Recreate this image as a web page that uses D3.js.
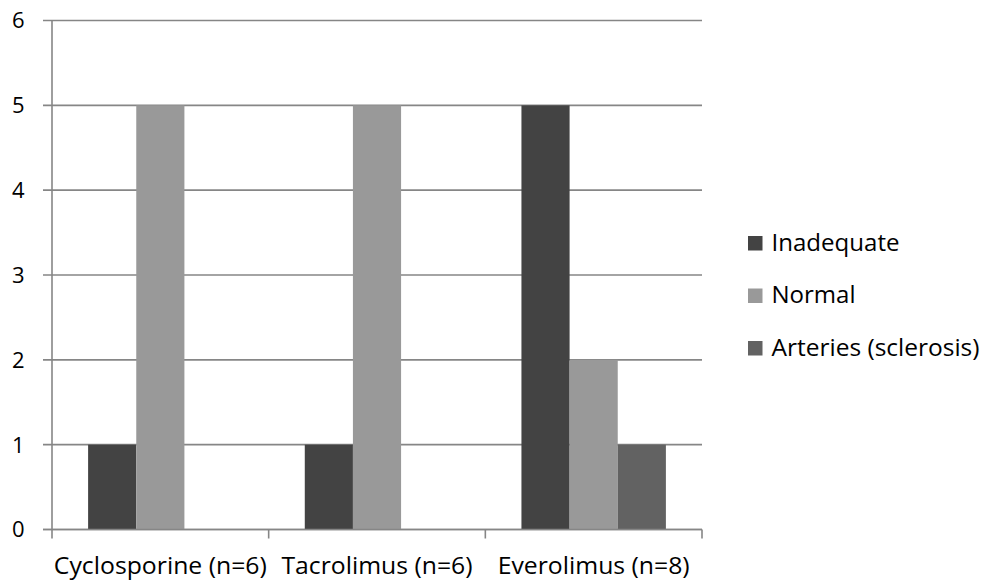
<!DOCTYPE html>
<html>
<head>
<meta charset="utf-8">
<script src="https://cdn.jsdelivr.net/npm/d3@7"></script>
<style>
  html, body { margin: 0; padding: 0; background: #fff; }
  svg { display: block; }
  text { font-family: "Open Sans", Lato, sans-serif; fill: #000; }
</style>
</head>
<body>
<svg id="chart" width="984" height="580"></svg>
<script>
const categories = ["Cyclosporine (n=6)", "Tacrolimus (n=6)", "Everolimus (n=8)"];
const seriesNames = ["Inadequate", "Normal", "Arteries (sclerosis)"];
const inadequate = [1, 1, 5];
const normal = [5, 5, 2];
const arteries = [0, 0, 1];
const seriesColors = ["#434343", "#999999", "#626262"];
const yTicks = [0, 1, 2, 3, 4, 5, 6];
// measured label widths (px) to mimic original font metrics
const catLabelWidths = [213, 191, 192];
const legendLabelWidths = [128, 84, 208];

const seriesValues = [inadequate, normal, arteries];

(function () {
const svg = d3.select("#chart");
const mLeft = 52, mRight = 702, mTop = 20.5, mBottom = 529.5;
const gridColor = "#868686";

const x0 = d3.scaleBand().domain(categories).range([mLeft, mRight]).padding(0);
const bw = x0.bandwidth();
const x1 = d3.scaleBand().domain(seriesNames).range([bw / 6, bw * 5 / 6]).padding(0);
const y = d3.scaleLinear().domain([0, 6]).range([mBottom, mTop]);

// gridlines
svg.append("g").selectAll("line").data(yTicks).join("line")
  .attr("x1", mLeft - 9).attr("x2", mRight)
  .attr("y1", d => y(d)).attr("y2", d => y(d))
  .attr("stroke", gridColor).attr("stroke-width", 1.6);

// y tick labels
svg.append("g").selectAll("text").data(yTicks).join("text")
  .attr("x", 24.5).attr("y", d => y(d))
  .attr("dy", "0.36em")
  .attr("text-anchor", "end")
  .attr("font-size", 22)
  .text(d => d);

// bars
const data = [];
categories.forEach((c, i) => {
  seriesNames.forEach((s, j) => {
    data.push({ cat: c, series: s, value: seriesValues[j][i], color: seriesColors[j] });
  });
});
svg.append("g").selectAll("rect").data(data.filter(d => d.value > 0)).join("rect")
  .attr("x", d => x0(d.cat) + x1(d.series))
  .attr("width", x1.bandwidth())
  .attr("y", d => y(d.value))
  .attr("height", d => y(0) - y(d.value))
  .attr("fill", d => d.color);

// y axis line
svg.append("line")
  .attr("x1", mLeft).attr("x2", mLeft)
  .attr("y1", mTop).attr("y2", mBottom)
  .attr("stroke", gridColor).attr("stroke-width", 1.6);

// x axis line + category boundary ticks
svg.append("line")
  .attr("x1", mLeft - 9).attr("x2", mRight)
  .attr("y1", mBottom).attr("y2", mBottom)
  .attr("stroke", gridColor).attr("stroke-width", 1.6);
const boundaries = categories.map(c => x0(c)).concat([x0(categories[categories.length - 1]) + bw]);
svg.append("g").selectAll("line").data(boundaries).join("line")
  .attr("x1", d => d).attr("x2", d => d)
  .attr("y1", mBottom).attr("y2", mBottom + 9)
  .attr("stroke", gridColor).attr("stroke-width", 1.6);

// category labels
svg.append("g").selectAll("text").data(categories).join("text")
  .attr("x", d => x0(d) + bw / 2)
  .attr("y", 574)
  .attr("text-anchor", "middle")
  .attr("font-size", 24)
  .attr("textLength", (d, i) => catLabelWidths[i])
  .attr("lengthAdjust", "spacingAndGlyphs")
  .text(d => d);

// legend
const legendY = d3.scalePoint().domain(seriesNames).range([243, 348]);
const lg = svg.append("g");
lg.selectAll("rect").data(seriesNames).join("rect")
  .attr("x", 748).attr("y", d => legendY(d) - 7)
  .attr("width", 14.5).attr("height", 14.5)
  .attr("fill", (d, i) => seriesColors[i]);
lg.selectAll("text").data(seriesNames).join("text")
  .attr("x", 771.5).attr("y", d => legendY(d) + 7.5)
  .attr("font-size", 24.5)
  .attr("textLength", (d, i) => legendLabelWidths[i])
  .attr("lengthAdjust", "spacingAndGlyphs")
  .text(d => d);
})();
</script>
</body>
</html>
